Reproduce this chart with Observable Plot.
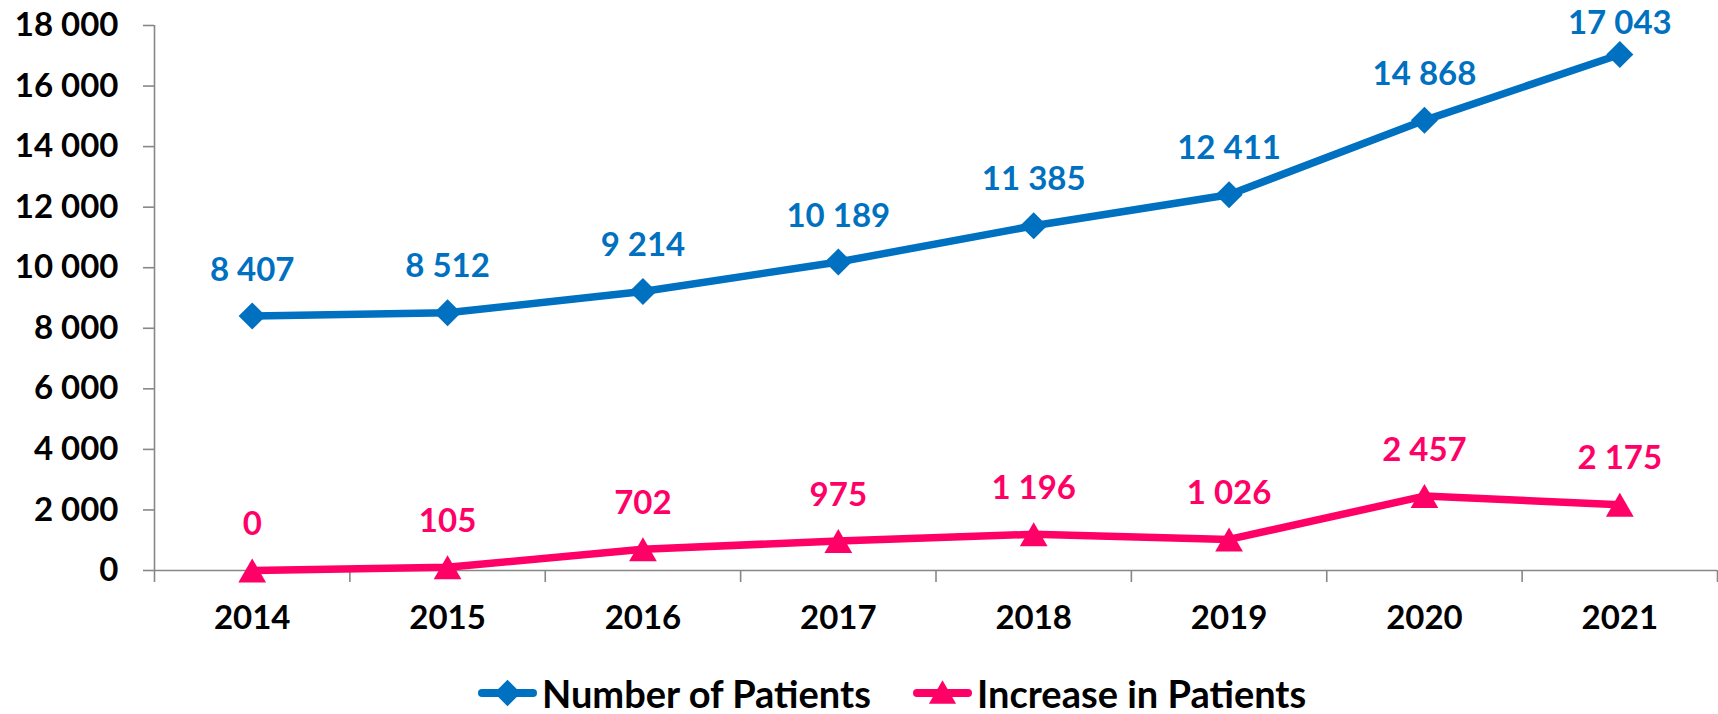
<!DOCTYPE html>
<html><head><meta charset="utf-8">
<script src="https://cdn.jsdelivr.net/npm/d3@7"></script>
<script src="https://cdn.jsdelivr.net/npm/@observablehq/plot@0.6"></script>
<style>
body{margin:0;background:#fff;font-family:Lato,sans-serif;}
#chart svg{display:block;}
#legend{position:relative;width:1718px;height:64px;}
.item{position:absolute;top:23px;height:40px;display:flex;align-items:center;gap:5px;font-family:Lato,sans-serif;font-weight:bold;font-size:38px;color:#000;white-space:nowrap;}
</style></head><body>
<div id="chart"></div>
<div id="legend"></div>
<script>
const years = [2014, 2015, 2016, 2017, 2018, 2019, 2020, 2021];
const patients = [8407, 8512, 9214, 10189, 11385, 12411, 14868, 17043];
const increase = [0, 105, 702, 975, 1196, 1026, 2457, 2175];
const seriesNames = ["Number of Patients", "Increase in Patients"];
const yTicks = [0, 2000, 4000, 6000, 8000, 10000, 12000, 14000, 16000, 18000];

const colors = ["#0070C0", "#FF0066"];
const gray = "#878787";
const fmt = d => d3.format(",")(d).replace(/,/g, " ");

const rows = [
  ...years.map((y, i) => ({year: y, value: patients[i], series: seriesNames[0]})),
  ...years.map((y, i) => ({year: y, value: increase[i], series: seriesNames[1]}))
];
const boundaries = [...years.map(y => y - 0.5), years[years.length - 1] + 0.5];
const lastYear = years[years.length - 1];
const isTop = d => d.series === seriesNames[0] && d.year === lastYear;

const chart = Plot.plot({
  width: 1718,
  height: 650,
  marginTop: 25,
  marginBottom: 80,
  marginLeft: 154,
  marginRight: 1,
  style: {fontFamily: "Lato, sans-serif", fontWeight: "bold", fontSize: "33px", color: "#000", background: "#fff"},
  x: {type: "linear", domain: [boundaries[0], boundaries[boundaries.length - 1]], axis: null, label: null},
  y: {domain: [0, 18000], axis: null, label: null},
  color: {domain: seriesNames, range: colors},
  marks: [
    Plot.ruleY([0], {stroke: gray, strokeWidth: 1.6}),
    Plot.ruleX([boundaries[0]], {y1: 0, y2: 18000, stroke: gray, strokeWidth: 1.6}),
    Plot.axisY({ticks: yTicks, label: null, tickSize: 11, tickPadding: 25, tickFormat: fmt, stroke: gray, strokeWidth: 1.6, fill: "#000", fontSize: 33, fontWeight: "bold"}),
    Plot.axisX({ticks: boundaries, label: null, tickSize: 12, tickFormat: () => "", stroke: gray, strokeWidth: 1.6}),
    Plot.axisX({ticks: years, label: null, tickSize: 0, tickPadding: 35, tickFormat: d => String(d), fill: "#000", fontSize: 33, fontWeight: "bold"}),
    Plot.line(rows, {x: "year", y: "value", z: "series", stroke: "series", strokeWidth: 7.5}),
    Plot.dot(rows.filter(d => d.series === seriesNames[0]), {x: "year", y: "value", symbol: "diamond2", r: 12.2, fill: colors[0], stroke: "none"}),
    Plot.dot(rows.filter(d => d.series === seriesNames[1]), {x: "year", y: "value", symbol: "triangle", r: 10.3, fill: colors[1], stroke: "none", dy: 4}),
    Plot.text(rows.filter(d => !isTop(d)), {x: "year", y: "value", text: d => fmt(d.value), fill: "series", dy: -46, fontSize: 33, fontWeight: "bold"}),
    Plot.text(rows.filter(isTop), {x: "year", y: "value", text: d => fmt(d.value), fill: "series", dy: -31, fontSize: 33, fontWeight: "bold"})
  ]
});
document.getElementById("chart").appendChild(chart);

const legend = document.getElementById("legend");
const symbols = [d3.symbol(d3.symbolDiamond2, 450)(), d3.symbol(d3.symbolTriangle, 320)()];
const lefts = [478, 913];
seriesNames.forEach((name, i) => {
  const item = document.createElement("div");
  item.className = "item";
  item.style.left = lefts[i] + "px";
  item.innerHTML = `<svg width="59" height="40" viewBox="0 0 59 40"><line x1="4" y1="20" x2="55" y2="20" stroke="${colors[i]}" stroke-width="8" stroke-linecap="round"/><path transform="translate(29.5,${i === 1 ? 23 : 20})" d="${symbols[i]}" fill="${colors[i]}"/></svg><span>${name}</span>`;
  legend.appendChild(item);
});
</script>
</body></html>
